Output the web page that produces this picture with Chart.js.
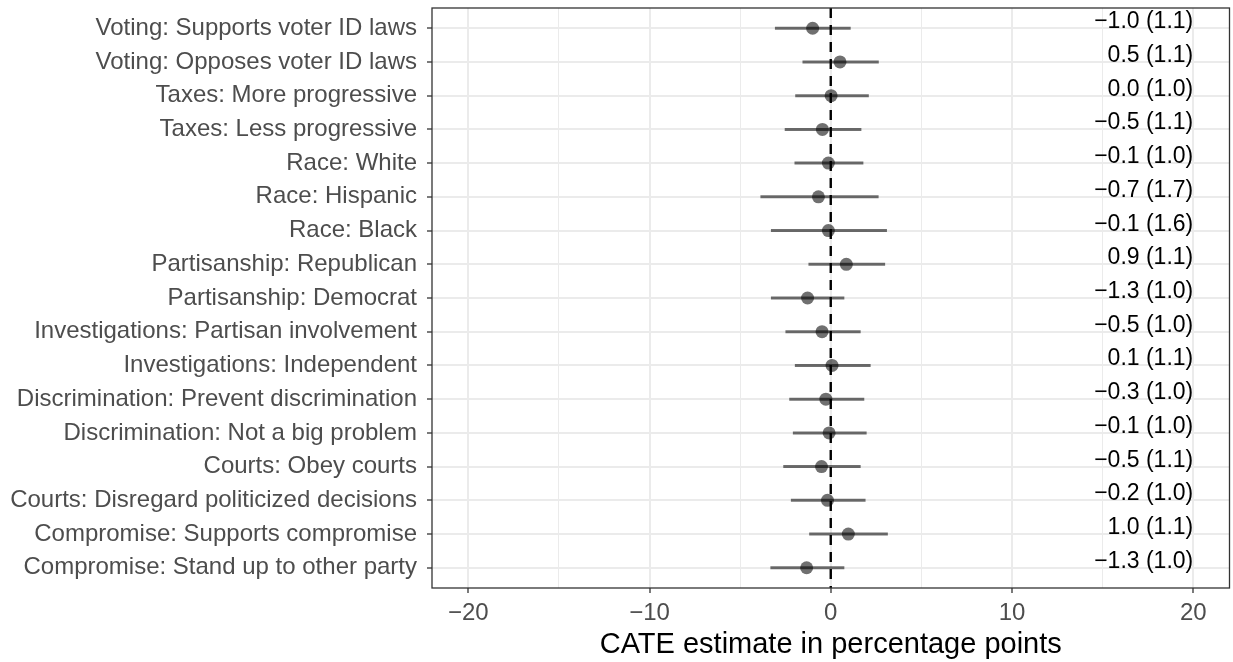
<!DOCTYPE html>
<html>
<head>
<meta charset="utf-8">
<script src="https://cdn.jsdelivr.net/npm/chart.js@4.4.1/dist/chart.umd.min.js"></script>
<style>
  html, body { margin: 0; padding: 0; background: #fff; overflow: hidden; }
  /* a little wider than the window: Chart.js keeps ~6px on the right we don't want */
  #wrap { width: 1236px; height: 662px; }
</style>
</head>
<body>
<div id="wrap"><canvas id="cate"></canvas></div>
<script>
// Subgroups, top to bottom
const categories = [
    'Voting: Supports voter ID laws',
    'Voting: Opposes voter ID laws',
    'Taxes: More progressive',
    'Taxes: Less progressive',
    'Race: White',
    'Race: Hispanic',
    'Race: Black',
    'Partisanship: Republican',
    'Partisanship: Democrat',
    'Investigations: Partisan involvement',
    'Investigations: Independent',
    'Discrimination: Prevent discrimination',
    'Discrimination: Not a big problem',
    'Courts: Obey courts',
    'Courts: Disregard politicized decisions',
    'Compromise: Supports compromise',
    'Compromise: Stand up to other party'
];

// point estimates and 95% interval ends (percentage points)
const estimates = [-1.0, 0.51, 0.02, -0.46, -0.13, -0.68, -0.13, 0.86, -1.28, -0.48, 0.07, -0.27, -0.09, -0.51, -0.18, 0.97, -1.33];
const lower = [-3.08, -1.56, -1.96, -2.54, -2.0, -3.88, -3.3, -1.23, -3.3, -2.5, -1.98, -2.29, -2.09, -2.62, -2.2, -1.19, -3.33];
const upper = [1.1, 2.65, 2.1, 1.69, 1.8, 2.64, 3.1, 3.0, 0.75, 1.65, 2.2, 1.85, 1.98, 1.65, 1.92, 3.15, 0.75];

// text printed at the right of each row: estimate (SE)
const estLabels = ['\u22121.0 (1.1)', '0.5 (1.1)', '0.0 (1.0)', '\u22120.5 (1.1)', '\u22120.1 (1.0)', '\u22120.7 (1.7)',
    '\u22120.1 (1.6)', '0.9 (1.1)', '\u22121.3 (1.0)', '\u22120.5 (1.0)', '0.1 (1.1)', '\u22120.3 (1.0)',
    '\u22120.1 (1.0)', '\u22120.5 (1.1)', '\u22120.2 (1.0)', '1.0 (1.1)', '\u22121.3 (1.0)'];

const xTicks = [-20, -15, -10, -5, 0, 5, 10, 15, 20];
const labelX = 20;

const font = 'Liberation Sans, Arial, Helvetica, sans-serif';
const gridColor = '#EBEBEB';
const frameColor = '#333333';
const markColor = 'rgba(0, 0, 0, 0.56)';

const points = estimates.map((v, i) => ({ x: v, y: i + 1 }));

// error bars, zero line, frame and row text
const forestPlugin = {
    id: 'forest',
    beforeDatasetsDraw(chart) {
        const { ctx, chartArea, scales } = chart;
        const x = scales.x, y = scales.y;
        ctx.save();
        ctx.strokeStyle = markColor;
        ctx.lineWidth = 3;
        ctx.lineCap = 'butt';
        lower.forEach((lo, i) => {
            const py = y.getPixelForValue(i + 1);
            ctx.beginPath();
            ctx.moveTo(x.getPixelForValue(lo), py);
            ctx.lineTo(x.getPixelForValue(upper[i]), py);
            ctx.stroke();
        });
        const zx = x.getPixelForValue(0);
        ctx.strokeStyle = '#000';
        ctx.lineWidth = 2.4;
        ctx.setLineDash([10, 7]);
        ctx.beginPath();
        ctx.moveTo(zx, chartArea.top);
        ctx.lineTo(zx, chartArea.bottom);
        ctx.stroke();
        ctx.restore();
    },
    afterDatasetsDraw(chart) {
        const { ctx, chartArea, scales } = chart;
        ctx.save();
        ctx.fillStyle = '#000';
        ctx.font = '23px ' + font;
        ctx.textAlign = 'right';
        ctx.textBaseline = 'alphabetic';
        const tx = scales.x.getPixelForValue(labelX);
        estLabels.forEach((t, i) => {
            ctx.fillText(t, tx, scales.y.getPixelForValue(i + 1));
        });
        ctx.strokeStyle = frameColor;
        ctx.lineWidth = 1.3;
        ctx.strokeRect(chartArea.left, chartArea.top, chartArea.right - chartArea.left, chartArea.bottom - chartArea.top);
        ctx.restore();
    }
};

new Chart(document.getElementById('cate'), {
    type: 'scatter',
    data: {
        datasets: [{
            data: points,
            backgroundColor: markColor,
            borderWidth: 0,
            pointRadius: 6.5,
            pointHoverRadius: 6.5
        }]
    },
    options: {
        responsive: true,
        maintainAspectRatio: false,
        animation: false,
        layout: { padding: { top: 8, right: 4, bottom: 0, left: 0 } },
        plugins: {
            legend: { display: false },
            tooltip: { enabled: false }
        },
        scales: {
            x: {
                type: 'linear',
                min: -22,
                max: 22,
                afterBuildTicks: (scale) => { scale.ticks = xTicks.map((v) => ({ value: v })); },
                afterFit: (scale) => {
                    scale.height = 74;
                    scale.paddingLeft = 0;
                    scale.paddingRight = 0;
                },
                border: { display: false },
                grid: {
                    color: gridColor,
                    lineWidth: (c) => (c.tick && c.tick.value % 10 === 0 ? 2 : 1),
                    tickColor: (c) => (c.tick && c.tick.value % 10 === 0 ? frameColor : 'rgba(0,0,0,0)'),
                    tickLength: 5,
                    tickWidth: 1.3
                },
                ticks: {
                    autoSkip: false,
                    maxRotation: 0,
                    padding: 6,
                    color: '#4D4D4D',
                    font: { family: font, size: 24 },
                    callback: (v) => (v % 10 !== 0 ? '' : (v < 0 ? '\u2212' + Math.abs(v) : String(v)))
                },
                title: {
                    display: true,
                    text: 'CATE estimate in percentage points',
                    color: '#000',
                    font: { family: font, size: 29 },
                    padding: { top: 0, bottom: 0 }
                }
            },
            y: {
                type: 'linear',
                reverse: true,
                min: 0.4,
                max: 17.6,
                afterBuildTicks: (scale) => { scale.ticks = categories.map((c, i) => ({ value: i + 1 })); },
                afterFit: (scale) => {
                    scale.width = 432;
                    scale.paddingTop = 0;
                    scale.paddingBottom = 0;
                },
                border: { display: false },
                grid: {
                    color: gridColor,
                    lineWidth: 2,
                    tickColor: frameColor,
                    tickLength: 5,
                    tickWidth: 1.3
                },
                ticks: {
                    autoSkip: false,
                    padding: 10,
                    color: '#4D4D4D',
                    font: { family: font, size: 24 },
                    callback: (v) => categories[v - 1]
                }
            }
        }
    },
    plugins: [forestPlugin]
});
</script>
</body>
</html>
